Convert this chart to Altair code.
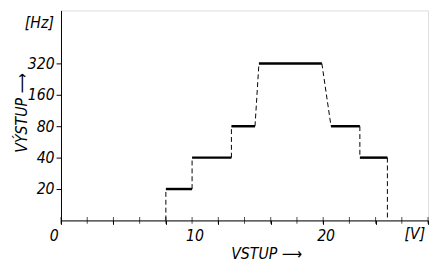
import altair as alt
import pandas as pd

# y levels (Hz) shown on an equally spaced (logarithmic-step) axis
levels = [0, 20, 40, 80, 160, 320]

# horizontal plateaus: start voltage, end voltage, output level (Hz)
seg_start = [8.0, 10.0, 13.0, 15.1, 20.6, 22.8]
seg_end = [10.0, 13.0, 14.8, 19.9, 22.8, 24.9]
seg_level = [20, 40, 80, 320, 80, 40]

# transitions (dashed): from voltage, to voltage, from level, to level
tr_x1 = [8.0, 10.0, 13.0, 14.8, 19.9, 22.8, 24.9]
tr_x2 = [8.0, 10.0, 13.0, 15.1, 20.6, 22.8, 24.9]
tr_l1 = [0, 20, 40, 80, 320, 80, 40]
tr_l2 = [20, 40, 80, 320, 80, 40, 0]

x_ticks = list(range(0, 30, 2))
x_label_vals = [10, 20]
x_zero_label = [0]

FONT = "DejaVu Sans Condensed"

idx = {v: i for i, v in enumerate(levels)}
seg_df = pd.DataFrame({"x": seg_start, "x2": seg_end, "y": [idx[v] for v in seg_level]})
tr_df = pd.DataFrame({"x": tr_x1, "x2": tr_x2,
                      "y": [idx[v] for v in tr_l1], "y2": [idx[v] for v in tr_l2]})
tick_df = pd.DataFrame({"x": x_ticks, "y": [0] * len(x_ticks)})
xlab_df = pd.DataFrame({"x": x_label_vals, "y": [0] * len(x_label_vals),
                        "t": [str(v) for v in x_label_vals]})
xzero_df = pd.DataFrame({"x": x_zero_label, "y": [0], "t": ["0"]})

xscale = alt.Scale(domain=[0, 28], nice=False, zero=False)
yscale = alt.Scale(domain=[0, 6.69], nice=False, zero=False)

ylabel_expr = "datum.value == 1 ? '20' : datum.value == 2 ? '40' : datum.value == 3 ? '80' : datum.value == 4 ? '160' : datum.value == 5 ? '320' : ''"

xaxis = alt.Axis(values=x_ticks, labels=False, grid=False,
                 tickSize=4, tickColor="black", domainColor="black",
                 title="VSTUP ⟶", titleFont=FONT, titleFontSize=16,
                 titleFontStyle="italic", titleFontWeight="normal", titleColor="black",
                 titleX=209, titleY=39, titleBaseline="alphabetic", titleAlign="center")
yaxis = alt.Axis(values=[1, 2, 3, 4, 5], labelExpr=ylabel_expr, labelOverlap=False,
                 grid=False, tickSize=5,
                 tickColor="black", domainColor="black", labelColor="black",
                 labelFont=FONT, labelFontSize=16, labelFontStyle="italic",
                 labelPadding=2, title="VÝSTUP ⟶", titleFont=FONT, titleFontSize=16,
                 titleFontStyle="italic", titleFontWeight="normal", titleColor="black",
                 titleX=-40, titleY=104, titleAngle=270, titleAlign="center",
                 titleBaseline="middle")

plateaus = alt.Chart(seg_df).mark_rule(color="black", strokeWidth=2.5).encode(
    x=alt.X("x:Q", scale=xscale, axis=xaxis),
    x2="x2:Q",
    y=alt.Y("y:Q", scale=yscale, axis=yaxis),
)

edges = alt.Chart(tr_df).mark_rule(color="black", strokeWidth=1, strokeDash=[5, 3]).encode(
    x=alt.X("x:Q", scale=xscale),
    x2="x2:Q",
    y=alt.Y("y:Q", scale=yscale),
    y2="y2:Q",
)

ticks = alt.Chart(tick_df).mark_tick(color="black", size=7, thickness=1,
                                     orient="vertical").encode(
    x=alt.X("x:Q", scale=xscale),
    y=alt.Y("y:Q", scale=yscale),
)

xlabels = alt.Chart(xlab_df).mark_text(font=FONT, fontSize=16, fontStyle="italic",
                                       color="black", align="center", baseline="top",
                                       dx=3, dy=8).encode(
    x=alt.X("x:Q", scale=xscale),
    y=alt.Y("y:Q", scale=yscale),
    text="t:N",
)

xzero = alt.Chart(xzero_df).mark_text(font=FONT, fontSize=16, fontStyle="italic",
                                      color="black", align="center", baseline="top",
                                      dx=-7, dy=8).encode(
    x=alt.X("x:Q", scale=xscale),
    y=alt.Y("y:Q", scale=yscale),
    text="t:N",
)

units_df = pd.DataFrame({"x": [-1.65, 27.0], "y": [6.3, -0.45], "t": ["[Hz]", "[V]"]})
units = alt.Chart(units_df).mark_text(font=FONT, fontSize=16, fontStyle="italic",
                                      color="black", align="center", baseline="middle").encode(
    x=alt.X("x:Q", scale=xscale),
    y=alt.Y("y:Q", scale=yscale),
    text="t:N",
)

chart = alt.layer(plateaus, edges, ticks, xlabels, xzero, units).properties(
    width=374, height=214,
    autosize=alt.AutoSizeParams(type="none"),
    padding={"left": 54, "top": 0, "right": 2, "bottom": 44},
).configure_view(stroke=None).configure(background="white")

chart.save("out.html", embed_options={"renderer": "svg", "actions": False})
